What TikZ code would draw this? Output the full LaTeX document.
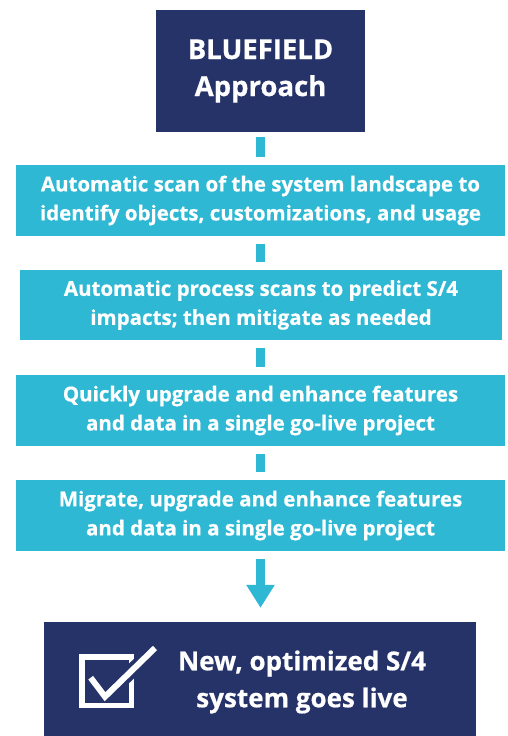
\documentclass[tikz,border=0pt]{standalone}
\usepackage{fontspec}
\setmainfont{Open Sans}[BoldFeatures={FakeBold=0.6}]
\usetikzlibrary{arrows.meta}
\definecolor{navy}{HTML}{263369}
\definecolor{cyanbox}{HTML}{2EB8D3}
\begin{document}
\begin{tikzpicture}[x=1pt,y=-1pt,
  navybox/.style={fill=navy, text=white, font=\bfseries\fontsize{27.5}{37}\selectfont, align=center, inner sep=0pt},
  stepbox/.style={fill=cyanbox, text=white, font=\bfseries\fontsize{20.5}{29}\selectfont, align=center, inner sep=0pt, minimum width=489pt, minimum height=71pt},
  link/.style={draw=cyanbox, line width=9pt, shorten <=8pt, shorten >=8pt},
  finalarrow/.style={draw=cyanbox, line width=9pt, shorten <=8pt, shorten >=14pt, -{Triangle[width=27pt,length=23pt]}}]
\useasboundingbox (0,0) rectangle (507,736);
\node[navybox, minimum width=209pt, minimum height=122pt] (top) at (260.5,71) {BLUEFIELD\\Approach};
\node[stepbox] (s1) at (260.5,200.5) {Automatic scan of the system landscape to\\identify objects, customizations, and usage};
\node[stepbox, minimum width=482pt, minimum height=70pt] (s2) at (261,305) {Automatic process scans to predict S/4\\impacts; then mitigate as needed};
\node[stepbox] (s3) at (260.5,410.5) {Quickly upgrade and enhance features\\and data in a single go-live project};
\node[stepbox] (s4) at (260.5,515.5) {Migrate, upgrade and enhance features\\and data in a single go-live project};
\node[navybox, minimum width=432pt, minimum height=114pt] (live) at (260,679) {};
\node[text=white, font=\bfseries\fontsize{26}{37}\selectfont, align=center, inner sep=0pt] (livetext) at (302,682) {New, optimized S/4\\system goes live};
% connectors
\draw[link, shorten <=5pt] (top.south -| s1.north) -- (s1.north);
\draw[link] (s1.south) -- (s2.north -| s1.south);
\draw[link] (s2.south -| s3.north) -- (s3.north);
\draw[link] (s3.south) -- (s4.north);
\draw[finalarrow] (s4.south) -- (live.north -| s4.south);
% check box icon
\draw[white, line width=5.5pt] (81.75,656.75) rectangle (131.25,705.25);
\draw[navy, line width=14pt] (112,690) -- (150,653);
\draw[white, line width=6pt, line join=miter] (90.7,677.7) -- (105,696.7) -- (155,648);
\end{tikzpicture}
\end{document}
